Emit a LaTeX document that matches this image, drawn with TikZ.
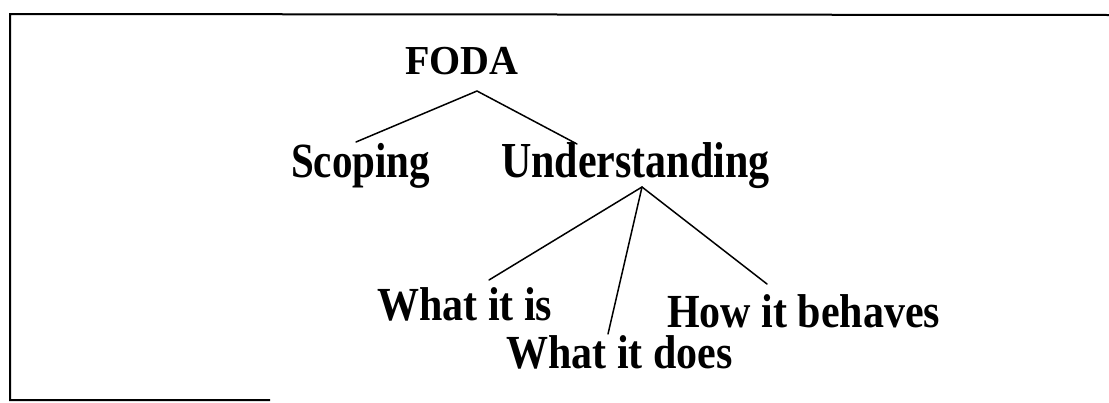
\documentclass[tikz,border=0pt]{standalone}
\usepackage{fontspec}
\setmainfont{Liberation Serif}
\begin{document}
\begin{tikzpicture}[x=1pt,y=-1pt,
  lbl/.style={anchor=base west,inner sep=0pt,font=\bfseries\fontsize{#1}{#1}\selectfont},
  edge/.style={line width=1.5pt,line cap=round},
  frame/.style={line width=2pt}]
\useasboundingbox (0,0) rectangle (1109,402);
% partial frame
\draw[frame] (1109,15) -- (10,14) -- (10,400) -- (270,400);
% labels
\node[lbl=40] (foda) at (405,74) {\scalebox{1}[1.03]{FODA}};
\node[lbl=41] (scoping) at (291,177) {\scalebox{1}[1.2]{Scoping}};
\node[lbl=42] (under) at (501,177) {\scalebox{1}[1.2]{Understanding}};
\node[lbl=42] (whatis) at (377,320) {\scalebox{1}[1.13]{What it is}};
\node[lbl=42] (whatdoes) at (506,368) {\scalebox{1}[1.13]{What it does}};
\node[lbl=42] (how) at (667,327) {\scalebox{1}[1.13]{How it behaves}};
% connector end points
\coordinate (fj) at (477,91);
\coordinate (sTop) at (356,142);
\coordinate (uTop) at (577,144);
\coordinate (uj) at (642,187);
\coordinate (isTop) at (489,280);
\coordinate (doesTop) at (608,334);
\coordinate (howTop) at (767,284);
\draw[edge] (sTop) -- (fj) -- (uTop);
\draw[edge] (isTop) -- (uj) -- (howTop);
\draw[edge] (uj) -- (doesTop);
\end{tikzpicture}
\end{document}
